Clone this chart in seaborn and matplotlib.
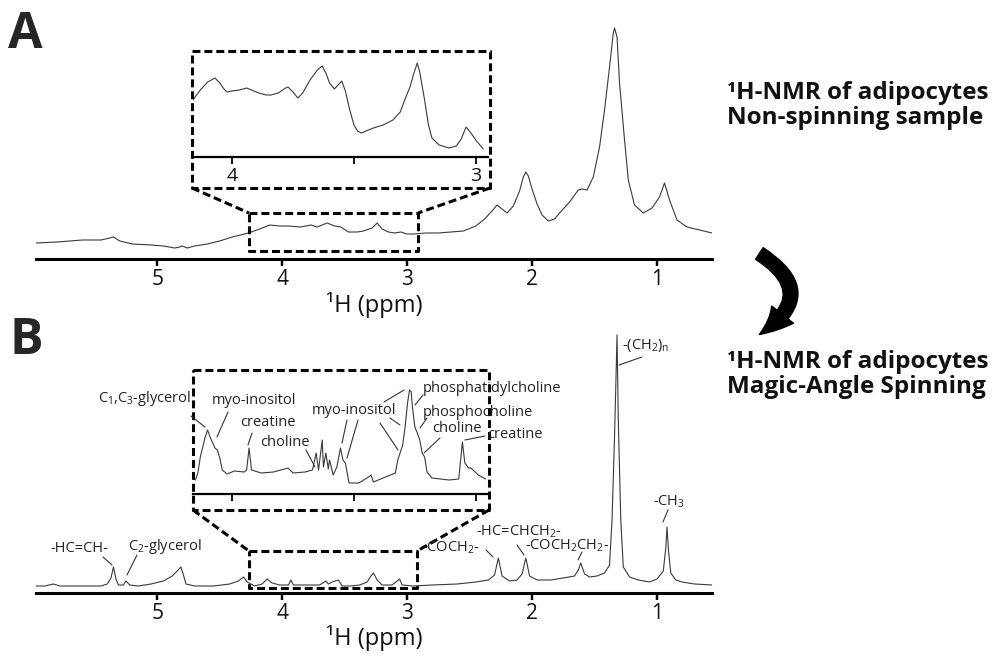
import numpy as np
import pandas as pd
import matplotlib.pyplot as plt
import seaborn as sns
from matplotlib.patches import FancyArrowPatch

# --- Panel A: non-spinning sample (intensity in arbitrary units) ---
ppm_a = [5.97, 5.80, 5.60, 5.45, 5.38, 5.35, 5.30, 5.20, 5.05, 4.95, 4.86, 4.82, 4.80,
         4.76, 4.70, 4.60, 4.50, 4.40, 4.27, 4.18, 4.10, 4.02, 3.95, 3.85, 3.77, 3.72,
         3.64, 3.58, 3.53, 3.47, 3.40, 3.35, 3.28, 3.24, 3.20, 3.15, 3.10, 3.05, 3.00,
         2.95, 2.85, 2.75, 2.65, 2.55, 2.45, 2.38, 2.32, 2.28, 2.24, 2.20, 2.15, 2.10,
         2.07, 2.05, 2.03, 2.00, 1.96, 1.92, 1.87, 1.82, 1.78, 1.70, 1.63, 1.60, 1.56,
         1.51, 1.46, 1.42, 1.38, 1.35, 1.34, 1.32, 1.30, 1.26, 1.23, 1.18, 1.11, 1.04,
         0.98, 0.94, 0.90, 0.84, 0.76, 0.66, 0.56]
int_a = [16, 17, 19, 19, 21, 22, 18, 15, 14, 13, 11, 12, 13,
         11, 13, 15, 18, 22, 26, 30, 34, 33, 33, 32, 34, 32,
         36, 33, 32, 27, 27, 28, 31, 36, 30, 27, 26, 27, 25,
         25, 26, 26, 27, 28, 33, 40, 48, 54, 50, 46, 53, 68,
         82, 87, 83, 70, 55, 44, 38, 40, 46, 57, 69, 70, 69,
         82, 112, 149, 192, 226, 231, 222, 176, 119, 79, 54, 46, 51,
         62, 76, 59, 39, 32, 29, 26]

# zoomed region 4.2 - 2.9 ppm of panel A
ppm_a_zoom = [4.16, 4.13, 4.10, 4.07, 4.05, 4.03, 4.02, 4.00, 3.97, 3.94, 3.92, 3.89,
              3.86, 3.84, 3.81, 3.78, 3.77, 3.75, 3.73, 3.71, 3.68, 3.65, 3.63, 3.615,
              3.60, 3.58, 3.565, 3.55, 3.535, 3.52, 3.50, 3.485, 3.47, 3.45, 3.42, 3.38,
              3.34, 3.31, 3.29, 3.27, 3.255, 3.24, 3.23, 3.21, 3.195, 3.18, 3.15, 3.11,
              3.08, 3.06, 3.04, 3.02, 3.00, 2.97]
int_a_zoom = [57, 67, 75, 79, 74, 67, 65, 66, 67, 69, 67, 64,
              62, 62, 64, 69, 70, 65, 59, 64, 77, 87, 91, 84,
              74, 68, 72, 76, 66, 50, 32, 26, 24, 26, 29, 32,
              37, 45, 58, 70, 83, 94, 85, 57, 33, 19, 12, 9,
              11, 18, 30, 24, 17, 8]

# --- Panel B: magic-angle spinning ---
ppm_b = [5.97, 5.90, 5.83, 5.78, 5.60, 5.45, 5.40, 5.37, 5.35, 5.33, 5.31, 5.27, 5.25,
         5.22, 5.15, 5.05, 4.95, 4.88, 4.84, 4.81, 4.79, 4.77, 4.70, 4.55, 4.42, 4.35,
         4.31, 4.28, 4.22, 4.16, 4.12, 4.08, 4.02, 3.95, 3.93, 3.91, 3.80, 3.70, 3.65,
         3.63, 3.60, 3.55, 3.52, 3.45, 3.38, 3.32, 3.29, 3.27, 3.24, 3.20, 3.12, 3.06,
         3.04, 2.95, 2.80, 2.60, 2.45, 2.35, 2.30, 2.27, 2.24, 2.18, 2.12, 2.08, 2.05,
         2.02, 1.96, 1.85, 1.75, 1.66, 1.63, 1.61, 1.58, 1.54, 1.48, 1.42, 1.38, 1.36,
         1.34, 1.32, 1.31, 1.29, 1.27, 1.22, 1.15, 1.06, 1.00, 0.95, 0.93, 0.92, 0.91,
         0.89, 0.85, 0.80, 0.70, 0.56]
int_b = [7, 7, 9, 7, 7, 7, 9, 15, 26, 14, 8, 8, 12,
         8, 7, 9, 12, 17, 22, 26, 18, 9, 7, 7, 9, 12,
         16, 11, 7, 9, 14, 10, 8, 8, 13, 8, 8, 8, 12,
         9, 11, 13, 7, 7, 8, 11, 17, 20, 13, 8, 8, 14,
         8, 7, 8, 9, 11, 13, 18, 35, 17, 12, 13, 19, 35,
         17, 13, 13, 15, 17, 23, 30, 19, 16, 17, 20, 28, 73,
         156, 258, 173, 73, 26, 16, 13, 11, 14, 22, 45, 66, 45,
         20, 13, 11, 9, 8]

ppm_b_zoom = [4.15, 4.14, 4.13, 4.11, 4.10, 4.09, 4.07, 4.06, 4.05, 4.04, 4.02, 3.99,
              3.95, 3.94, 3.93, 3.92, 3.88, 3.83, 3.77, 3.75, 3.70, 3.67, 3.655, 3.645,
              3.63, 3.625, 3.615, 3.605, 3.60, 3.585, 3.57, 3.555, 3.545, 3.535, 3.52,
              3.48, 3.44, 3.43, 3.42, 3.37, 3.33, 3.32, 3.30, 3.29, 3.28, 3.272, 3.265,
              3.26, 3.25, 3.24, 3.23, 3.22, 3.21, 3.20, 3.18, 3.11, 3.07, 3.055, 3.045,
              3.03, 3.02, 2.99, 2.96]
int_b_zoom = [14, 21, 37, 57, 64, 57, 46, 44, 36, 24, 20, 23,
              22, 24, 46, 24, 21, 22, 26, 21, 22, 24, 41, 24,
              54, 27, 41, 25, 34, 19, 27, 46, 34, 31, 11,
              11, 17, 19, 12, 17, 21, 34, 49, 67, 91, 104, 102,
              87, 67, 61, 54, 41, 37, 22, 16, 14, 15, 52, 31,
              26, 26, 19, 15]

main_ticks = [5, 4, 3, 2, 1]
zoom_ticks = [4, 3.5, 3]

labels_b = [('-HC=CH-', 50, 549, [((103, 557), (112, 565))]),
            (r'C$_2$-glycerol', 128, 547, [((137, 555), (127, 575))]),
            (r'-COCH$_2$-', 422, 548, [((486, 550), (493, 557))]),
            (r'-HC=CHCH$_2$-', 476, 532, [((517, 545), (524, 555))]),
            (r'-COCH$_2$CH$_2$-', 525, 546, [((582, 552), (578, 560))]),
            (r'-(CH$_2$)$_n$', 622, 345, [((642, 357), (619, 365))]),
            (r'-CH$_3$', 653, 502, [((668, 510), (663, 522))]),
            (r'C$_1$,C$_3$-glycerol', 98, 399, [((191, 416), (205, 427))]),
            ('myo-inositol', 212, 401, [((228, 412), (217, 437))]),
            ('creatine', 240, 423, [((252, 433), (248, 445))]),
            ('choline', 260, 442, [((306, 450), (315, 467))]),
            ('myo-inositol', 312, 410, [((347, 420), (342, 443)), ((358, 420), (347, 458)),
                                        ((380, 423), (398, 450)), ((390, 418), (400, 425)),
                                        ((384, 402), (404, 390))]),
            ('phosphatidylcholine', 423, 389, [((423, 395), (415, 405))]),
            ('phosphocholine', 423, 412, [((427, 418), (420, 428))]),
            ('choline', 432, 429, [((440, 438), (424, 453))]),
            ('creatine', 487, 435, [((485, 436), (465, 440))])]

sns.set_theme(style='white')
plt.rcParams['font.family'] = ['Open Sans', 'DejaVu Sans']
plt.rcParams['mathtext.default'] = 'regular'

W, H = 993, 656
fig = plt.figure(figsize=(W / 100, H / 100), dpi=100)


def rect(l, t, r, b):
    return [l / W, 1 - b / H, (r - l) / W, (b - t) / H]


def spectrum(pos, ppm, inten, xlim, ylim, ticks, ticklabels, fs, lw):
    ax = fig.add_axes(pos)
    df = pd.DataFrame({'ppm': ppm, 'intensity': inten})
    sns.lineplot(data=df, x='ppm', y='intensity', ax=ax, color='#3a3a3a', lw=0.8,
                 estimator=None)
    ax.set_xlim(*xlim)
    ax.set_ylim(*ylim)
    for s in ['top', 'left', 'right']:
        ax.spines[s].set_visible(False)
    ax.spines['bottom'].set_linewidth(lw)
    ax.spines['bottom'].set_color('black')
    ax.set_yticks([])
    ax.set_ylabel('')
    ax.set_xlabel('')
    ax.set_xticks(ticks)
    ax.set_xticklabels(ticklabels, fontsize=fs, color='#111111')
    ax.tick_params(axis='x', bottom=True, direction='out', length=5, width=lw * 0.8,
                   color='black', pad=2)
    ax.patch.set_alpha(0)
    return ax


ax_a = spectrum(rect(36, 20, 712, 259), ppm_a, int_a, (5.97, 0.56), (0, 239),
                main_ticks, [str(t) for t in main_ticks], 15, 2.2)
ax_a.set_xlabel('¹H (ppm)', fontsize=17, labelpad=2, color='#111111')
ax_az = spectrum(rect(193, 55, 488, 157), ppm_a_zoom, int_a_zoom, (4.16, 2.95), (0, 102),
                 zoom_ticks, ['4', '', '3'], 14, 1.6)

ax_b = spectrum(rect(36, 330, 712, 593), ppm_b, int_b, (5.97, 0.56), (0, 263),
                main_ticks, [str(t) for t in main_ticks], 15, 2.2)
ax_b.set_xlabel('¹H (ppm)', fontsize=17, labelpad=1, color='#111111')
ax_bz = spectrum(rect(193, 385, 488, 494), ppm_b_zoom, int_b_zoom, (4.16, 2.95), (0, 109),
                 zoom_ticks, ['', '', ''], 13, 1.6)

# overlay in pixel coordinates for boxes, labels and arrow
ov = fig.add_axes([0, 0, 1, 1])
ov.set_xlim(0, W)
ov.set_ylim(H, 0)
ov.set_axis_off()
ov.patch.set_alpha(0)

dash = dict(color='black', lw=2.2, linestyle=(0, (2.6, 1.3)))
for (l, t, r, b), (sl, st, sr, sb) in [((192, 51, 490, 188), (249, 213, 418, 251)),
                                       ((193, 370, 489, 510), (249, 551, 417, 588))]:
    ov.plot([l, r, r, l, l], [t, t, b, b, t], **dash)
    ov.plot([sl, sr, sr, sl, sl], [st, st, sb, sb, st], **dash)
    ov.plot([l, sl], [b, st], **dash)
    ov.plot([r, sr], [b, st], **dash)

for txt, x, y, segs in labels_b:
    ov.text(x, y, txt, fontsize=10.5, ha='left', va='center', color='#222222')
    for (x1, y1), (x2, y2) in segs:
        ov.plot([x1, x2], [y1, y2], color='#333333', lw=0.8)

ov.text(8, 10, 'A', fontsize=36, fontweight='bold', ha='left', va='top')
ov.text(10, 316, 'B', fontsize=36, fontweight='bold', ha='left', va='top')

for txt, y in [('¹H-NMR of adipocytes', 93), ('Non-spinning sample', 118),
               ('¹H-NMR of adipocytes', 362), ('Magic-Angle Spinning', 387)]:
    ov.text(727, y, txt, fontsize=17.5, fontweight='bold', ha='left', va='center',
            color='#111111')

arrow = FancyArrowPatch((757, 252), (757, 336), connectionstyle='arc3,rad=-0.8',
                        arrowstyle='simple,head_length=1.1,head_width=1.0,tail_width=0.5',
                        mutation_scale=20, color='black')
ov.add_patch(arrow)

fig.savefig('out.png', dpi=100)
